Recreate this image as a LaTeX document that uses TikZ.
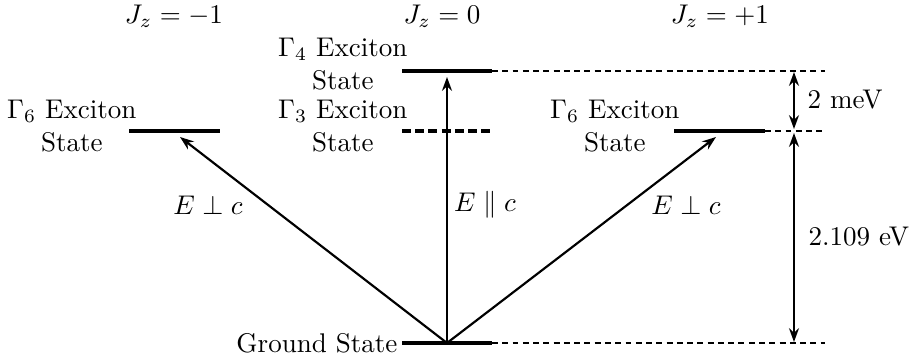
\documentclass[tikz,border=0pt]{standalone}
\usepackage{tikz}
\usetikzlibrary{arrows.meta,calc}
\tikzset{
  level/.style={line width=1.3pt},
  darklevel/.style={line width=1.3pt, dash pattern=on 3.3pt off 1.6pt},
  guide/.style={line width=0.5pt, dash pattern=on 2.2pt off 1.6pt},
  transition/.style={-{Stealth[length=1.8mm,width=1.3mm]},
                     line width=0.8pt},
  gap/.style={{Stealth[length=1.8mm,width=1.3mm]}-{Stealth[length=1.8mm,width=1.3mm]},
              line width=0.8pt},
  statelabel/.style={align=center, inner sep=0pt, anchor=east,
                     font=\fontsize{10}{12}\selectfont},
  jzlabel/.style={inner sep=0pt},
  pollabel/.style={inner sep=0pt},
  gaplabel/.style={inner sep=0pt, anchor=west}
}
\begin{document}
\begin{tikzpicture}[x=0.37pt,y=-0.37pt]
  \path[use as bounding box] (0,0) rectangle (911,354);

  % -------------------------------------------------------------------------
  % Energy levels (left end, right end, centre).
  \coordinate (gs-a) at (402,343);  \coordinate (gs-b) at (492,343);
  \coordinate (gs)   at (447,343);
  \coordinate (g4-a) at (402,71);   \coordinate (g4-b) at (492,71);
  \coordinate (g3-a) at (402,131);  \coordinate (g3-b) at (492,131);
  \coordinate (g6l-a) at (129,131); \coordinate (g6l-b) at (220,131);
  \coordinate (g6r-a) at (674,131); \coordinate (g6r-b) at (765,131);

  \draw[level] (gs-a) -- (gs-b);
  \draw[level] (g4-a) -- (g4-b);
  \draw[darklevel] (g3-a) -- (g3-b);
  \draw[level] (g6l-a) -- (g6l-b);
  \draw[level] (g6r-a) -- (g6r-b);

  % dashed guides out to the energy scale
  \coordinate (gd-0) at (825,343);
  \coordinate (gd-4) at (825,71);
  \coordinate (gd-6) at (822,131);
  \draw[guide] (gs-b) -- (gd-0);
  \draw[guide] (g4-b) -- (gd-4);
  \draw[guide] (g6r-b) -- (gd-6);

  % -------------------------------------------------------------------------
  % State names
  \node[statelabel] (lab-gs) at ($(gs-a)+(-4,0)$) {Ground State};
  \node[statelabel] (lab-g4) at ($(g4-a)+(6,-7)$) {$\Gamma_4$ Exciton\\State};
  \node[statelabel] (lab-g3) at ($(g3-a)+(6,-5)$) {$\Gamma_3$ Exciton\\State};
  \node[statelabel] (lab-g6l) at ($(g6l-a)+(8,-5)$) {$\Gamma_6$ Exciton\\State};
  \node[statelabel] (lab-g6r) at ($(g6r-a)+(6,-5)$) {$\Gamma_6$ Exciton\\State};

  % J_z columns
  \node[jzlabel] (jz-m) at (174,16) {$J_z=-1$};
  \node[jzlabel] (jz-0) at (442,16) {$J_z=0$};
  \node[jzlabel] (jz-p) at (720,16) {$J_z=+1$};

  % -------------------------------------------------------------------------
  % Optical transitions from the ground state
  \coordinate (tip-l) at (180,137);
  \coordinate (tip-m) at (447,77);
  \coordinate (tip-r) at (716,137);
  \draw[transition] (gs) -- (tip-l);
  \draw[transition] (gs) -- (tip-m);
  \draw[transition] (gs) -- (tip-r);
  \node[pollabel] (pol-l) at (208,205) {$E\perp c$};
  \node[pollabel] (pol-m) at (485,205) {$E\parallel c$};
  \node[pollabel] (pol-r) at (686,205) {$E\perp c$};

  % -------------------------------------------------------------------------
  % Energy scale
  \coordinate (sc-4) at (794,72);
  \coordinate (sc-6a) at (794,129);
  \coordinate (sc-6b) at (794,133);
  \coordinate (sc-0) at (794,342);
  \draw[gap] (sc-4) -- (sc-6a);
  \draw[gap] (sc-6b) -- (sc-0);
  \node[gaplabel] (gap-s) at (807,100) {2 meV};
  \node[gaplabel] (gap-l) at (808,237) {2.109 eV};
\end{tikzpicture}
\end{document}
